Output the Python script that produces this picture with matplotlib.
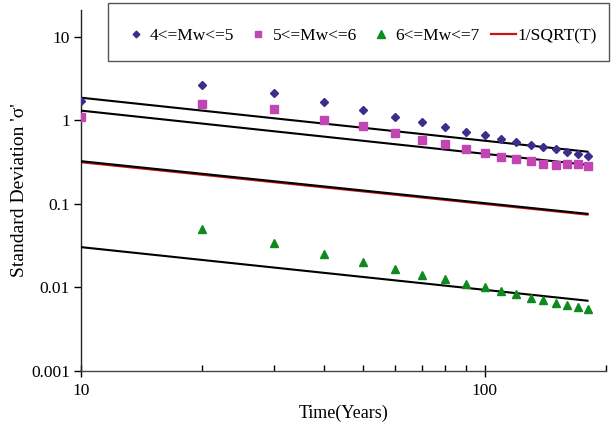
import numpy as np
import matplotlib
matplotlib.use("Agg")
import matplotlib.pyplot as plt
from matplotlib.ticker import LogLocator, FixedLocator, NullFormatter, FuncFormatter
from matplotlib.lines import Line2D
from matplotlib.patches import Rectangle

# ---------------- data ----------------
years = [10, 20, 30, 40, 50, 60, 70, 80, 90, 100, 110, 120, 130, 140, 150, 160, 170, 180]
sd_mw4_5 = [1.72, 2.65, 2.15, 1.64, 1.35, 1.10, 0.95, 0.83, 0.73, 0.67, 0.60, 0.55,
            0.51, 0.48, 0.45, 0.42, 0.40, 0.37]
sd_mw5_6 = [1.09, 1.58, 1.36, 1.02, 0.85, 0.70, 0.59, 0.52, 0.45, 0.41, 0.36, 0.345,
            0.33, 0.30, 0.295, 0.30, 0.30, 0.285]
years_mw6_7 = [20, 30, 40, 50, 60, 70, 80, 90, 100, 110, 120, 130, 140, 150, 160, 170, 180]
sd_mw6_7 = [0.050, 0.034, 0.025, 0.020, 0.0166, 0.0142, 0.0126, 0.0111, 0.0100, 0.0091,
            0.0083, 0.0075, 0.0071, 0.0066, 0.0062, 0.0059, 0.0056]
# black reference lines: value at T=10 and power-law exponent
line_value_at_10 = [1.87, 1.31, 0.325, 0.0304]
line_exponent = [-0.515, -0.517, -0.502, -0.511]
legend_labels = ["4<=Mw<=5", "5<=Mw<=6", "6<=Mw<=7", "1/SQRT(T)"]
y_ticks = [0.001, 0.01, 0.1, 1, 10]
x_ticks = [10, 100]

# ---------------- figure ----------------
plt.rcParams['font.family'] = ['Liberation Serif', 'DejaVu Serif']
W, H = 611, 429
fig = plt.figure(figsize=(W/100, H/100), dpi=100)
ax = fig.add_axes([81/W, 1-371/H, (606-81)/W, (371-10)/H])

c_blue = '#3A2D8E'
c_mag = '#C245B4'
c_green = '#0F8A1F'
c_red = '#C81414'

T = np.array(years, dtype=float)
ax.plot(T, 1/np.sqrt(T), color=c_red, lw=1.6, zorder=2)
for v10, b in zip(line_value_at_10, line_exponent):
    ax.plot(T, v10*(T/10.0)**b, color='black', lw=1.5, zorder=3)

ax.plot(years, sd_mw4_5, linestyle='none', marker='D', ms=3.8, color=c_blue, zorder=4)
ax.plot(years, sd_mw5_6, linestyle='none', marker='s', ms=5.2, color=c_mag, zorder=4)
ax.plot(years_mw6_7, sd_mw6_7, linestyle='none', marker='^', ms=5.8, color=c_green, zorder=4)

ax.set_xscale('log')
ax.set_yscale('log')
ax.set_xlim(10, 200)
ax.set_ylim(0.001, 10**((120.5-10)/83.6))

for s in ['top', 'right']:
    ax.spines[s].set_visible(False)
ax.spines['left'].set_color('#222222')
ax.spines['bottom'].set_color('#444444')
ax.spines['left'].set_linewidth(1.0)
ax.spines['bottom'].set_linewidth(1.0)

ax.yaxis.set_major_locator(FixedLocator(y_ticks))
ax.yaxis.set_minor_locator(FixedLocator([]))
ax.yaxis.set_major_formatter(FuncFormatter(lambda v, p: ('%g' % v)))
ax.xaxis.set_major_locator(FixedLocator(x_ticks))
ax.xaxis.set_minor_locator(LogLocator(base=10, subs=np.arange(2, 10)))
ax.xaxis.set_minor_formatter(NullFormatter())
ax.xaxis.set_major_formatter(FuncFormatter(lambda v, p: ('%g' % v)))

ax.tick_params(axis='y', which='major', direction='out', length=5, width=1, labelsize=12.5, pad=3)
ax.tick_params(axis='x', which='major', direction='inout', length=9, width=1, labelsize=12.5, pad=4)
ax.tick_params(axis='x', which='minor', direction='in', length=4, width=1)

ax.set_xlabel('Time(Years)', fontsize=13, labelpad=4)
ax.set_ylabel("Standard Deviation 'σ'", fontsize=14, labelpad=2)

# legend frame
fig.add_artist(Rectangle((108/W, 1-61/H), (609-108)/W, 58/H, transform=fig.transFigure,
                         fill=False, edgecolor='#555555', lw=1.0))
handles = [
    Line2D([], [], linestyle='none', marker='D', ms=3.4, color=c_blue),
    Line2D([], [], linestyle='none', marker='s', ms=4.6, color=c_mag),
    Line2D([], [], linestyle='none', marker='^', ms=5.2, color=c_green),
    Line2D([], [], color=c_red, lw=1.6),
]
leg = fig.legend(handles, legend_labels, loc='center left', ncol=4,
                 bbox_to_anchor=(123/W, 1-36/H), fontsize=12.5,
                 frameon=False, handlelength=1.45, handletextpad=0.1,
                 columnspacing=0.66, borderpad=0, borderaxespad=0)

fig.savefig('out.png', dpi=100)
